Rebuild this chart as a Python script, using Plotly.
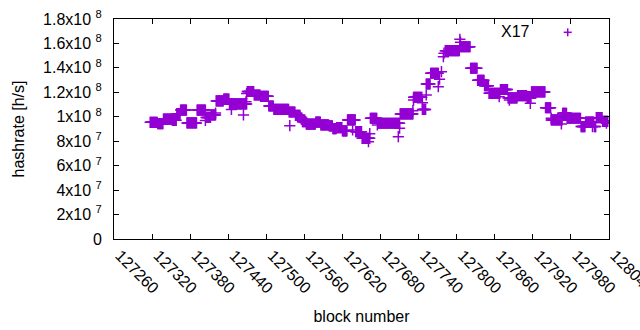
import plotly.graph_objects as go

# ---- data (hashrate in h/s) ----
# piecewise-constant runs: block range [start, end] and the value (millions of h/s)
run_start = [127317, 127329, 127338, 127352, 127359, 127365, 127375, 127391, 127405, 127413,
             127421, 127433, 127442, 127470, 127481, 127491, 127504, 127512, 127536, 127546,
             127554, 127557, 127563, 127578, 127586, 127599, 127605, 127611, 127620, 127628,
             127641, 127651, 127664, 127675, 127676, 127711, 127732, 127746, 127752, 127759,
             127782, 127805, 127822, 127833, 127844, 127851, 127869, 127881, 127896, 127911,
             127918, 127940, 127949, 127967, 127974, 127996, 128003, 128017, 128020, 128030]
run_end = [127328, 127337, 127351, 127358, 127364, 127374, 127390, 127404, 127412, 127420,
           127432, 127441, 127469, 127480, 127490, 127503, 127511, 127535, 127545, 127553,
           127556, 127562, 127577, 127585, 127598, 127604, 127610, 127619, 127627, 127640,
           127650, 127663, 127674, 127675, 127710, 127731, 127745, 127751, 127758, 127771,
           127804, 127821, 127832, 127843, 127850, 127868, 127880, 127895, 127910, 127917,
           127939, 127948, 127966, 127973, 127995, 128002, 128016, 128019, 128029, 128038]
run_value_M = [95.5, 94.3, 98.0, 97.1, 102.5, 105.5, 95.0, 105.5, 99.5, 101.5,
               113.0, 114.5, 110.5, 120.7, 117.8, 116.7, 108.8, 106.1, 103.9, 101.2,
               99.0, 96.0, 94.0, 95.7, 93.3, 92.5, 90.3, 91.1, 88.4, 97.4,
               87.8, 82.4, 98.8, 93.3, 94.7, 102.3, 115.9, 106.0, 126.8, 135.6,
               154.1, 157.3, 139.7, 129.8, 125.4, 119.2, 122.3, 115.4, 117.3, 115.4,
               120.3, 107.4, 97.4, 102.8, 98.8, 92.0, 95.7, 92.0, 99.3, 96.2]

# single scattered blocks (outliers)
single_block = [127404, 127420, 127445, 127464, 127468, 127469, 127537, 127636, 127661, 127663,
                127708, 127710, 127731, 127732, 127746, 127752, 127771, 127773, 127776, 127779,
                127780, 127805, 127806, 127867, 127883, 127916, 127949, 127965, 128014, 128036]
single_value_M = [97.0, 103.0, 106.0, 101.5, 112.3, 119.0, 92.7, 89.2, 79.6, 86.2,
                  83.7, 90.6, 105.0, 113.7, 111.5, 117.8, 124.6, 130.7, 136.9, 149.2,
                  152.0, 163.4, 161.0, 116.4, 113.7, 111.0, 98.8, 94.1, 91.9, 94.7]

x_tick_vals = [127260, 127320, 127380, 127440, 127500, 127560, 127620, 127680,
               127740, 127800, 127860, 127920, 127980, 128040]
y_tick_vals = [0, 2e7, 4e7, 6e7, 8e7, 1e8, 1.2e8, 1.4e8, 1.6e8, 1.8e8]
y_tick_text = ["0", "2x10\u00a0<sup>7</sup>", "4x10\u00a0<sup>7</sup>", "6x10\u00a0<sup>7</sup>",
               "8x10\u00a0<sup>7</sup>", "1x10\u00a0<sup>8</sup>", "1.2x10\u00a0<sup>8</sup>",
               "1.4x10\u00a0<sup>8</sup>", "1.6x10\u00a0<sup>8</sup>", "1.8x10\u00a0<sup>8</sup>"]
series_name = "X17"

# ---- expand runs to per-block points ----
xs, ys = [], []
for s, e, v in zip(run_start, run_end, run_value_M):
    for b in range(s, e + 1):
        xs.append(b)
        ys.append(v * 1e6)
for b, v in zip(single_block, single_value_M):
    xs.append(b)
    ys.append(v * 1e6)

COLOR = "#9400D3"
FONT = "Liberation Sans, Arial, sans-serif"

fig = go.Figure()
fig.add_trace(go.Scatter(
    x=xs, y=ys, mode="markers", name=series_name, showlegend=False,
    marker=dict(symbol="cross-thin", size=8, color=COLOR,
                line=dict(color=COLOR, width=1.5)),
))

axis_common = dict(
    showline=True, linecolor="black", linewidth=1, mirror="allticks",
    ticks="inside", ticklen=5, tickcolor="black", tickwidth=1,
    showgrid=False, zeroline=False, automargin=False,
    tickfont=dict(family=FONT, size=16, color="black"),
    ticklabeloverflow="allow",
)

fig.update_layout(
    width=640, height=330,
    margin=dict(l=114, r=31, t=19, b=91),
    paper_bgcolor="white", plot_bgcolor="white",
    font=dict(family=FONT, size=16, color="black"),
    xaxis=dict(range=[127260, 128040], tickvals=x_tick_vals,
               ticktext=[str(v) for v in x_tick_vals], tickangle=45,
               ticklabelshift=6,
               title=dict(text="block number", standoff=14,
                          font=dict(family=FONT, size=16, color="black")),
               **axis_common),
    yaxis=dict(range=[0, 1.8e8], tickvals=y_tick_vals, ticktext=y_tick_text,
               ticklabelstandoff=8,
               title=dict(text="hashrate [h/s]", standoff=14,
                          font=dict(family=FONT, size=16, color="black")),
               **axis_common),
    annotations=[dict(text=series_name, xref="paper", yref="paper",
                      x=0.8444, y=0.942, xanchor="right", yanchor="middle",
                      showarrow=False, font=dict(family=FONT, size=16, color="black"))],
    shapes=[
        dict(type="line", xref="paper", yref="paper", xsizemode="pixel", ysizemode="pixel",
             xanchor=0.9166, yanchor=0.9395, x0=-4, x1=4, y0=0, y1=0,
             line=dict(color=COLOR, width=1.5)),
        dict(type="line", xref="paper", yref="paper", xsizemode="pixel", ysizemode="pixel",
             xanchor=0.9166, yanchor=0.9395, x0=0, x1=0, y0=-4, y1=4,
             line=dict(color=COLOR, width=1.5)),
    ],
)

fig.write_html("out.html", config={"displayModeBar": False},
               post_script="document.body.style.margin='0';document.body.style.overflow='hidden';")
